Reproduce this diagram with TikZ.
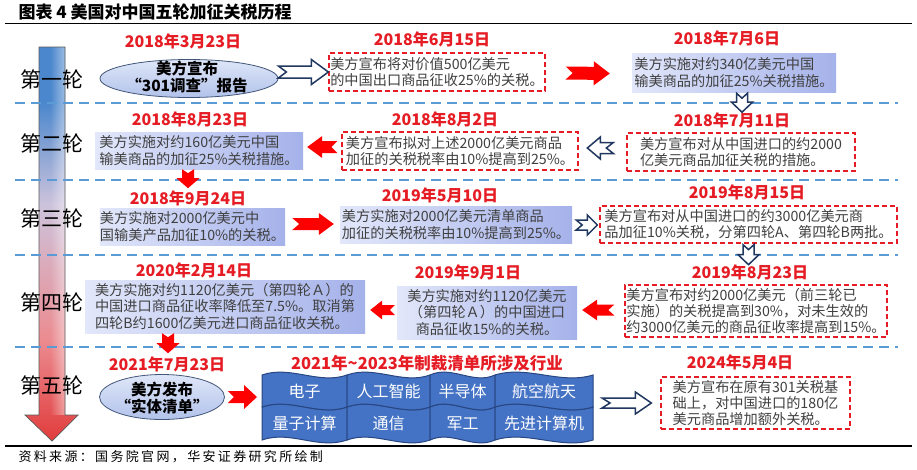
\documentclass[tikz,border=0pt]{standalone}
\usepackage{fontspec}
\setmainfont{Noto Sans CJK SC}
\newfontfamily\footfont[LetterSpace=18]{Noto Sans CJK SC}
\usetikzlibrary{calc,shapes.geometric,fadings}

\definecolor{dred}{RGB}{230,28,36}
\definecolor{arrred}{RGB}{255,0,0}
\definecolor{sepblue}{RGB}{91,155,213}
\definecolor{navy}{RGB}{32,56,96}
\definecolor{boxL}{RGB}{226,231,250}
\definecolor{boxR}{RGB}{165,178,234}
\definecolor{cellblue}{RGB}{68,114,196}
\definecolor{celledge}{RGB}{40,70,130}
\definecolor{txtgray}{RGB}{64,64,64}
\definecolor{ellT}{RGB}{222,230,248}
\definecolor{ellB}{RGB}{178,194,234}
\definecolor{rsblue}{RGB}{75,135,205}
\definecolor{rsmid}{RGB}{205,195,220}
\definecolor{rspink}{RGB}{235,140,145}
\definecolor{rsred}{RGB}{225,60,60}

\pgfdeclareverticalshading{roundshade}{100bp}{color(0bp)=(rsred); color(25bp)=(rsred); color(38bp)=(rspink); color(55bp)=(rsmid); color(68bp)=(rsblue); color(75bp)=(rsblue); color(100bp)=(rsblue)}

\newcommand\wcell[6]{%
  \pgfmathsetmacro\wa{#1+(#3-#1)/3}\pgfmathsetmacro\wb{#1+2*(#3-#1)/3}%
  \draw[cellsty] (#1,#2) .. controls (\wa,#2-10) and (\wb,#2+10) .. (#3,#2) -- (#3,#4) .. controls (\wb,#4+10) and (\wa,#4-10) .. (#1,#4) -- cycle;
  \node[celltext] (#5) at ({(#1+#3)/2},{(#2+#4)/2}) {#6};}

\tikzset{
  ah/.store in=\arrh, aH/.store in=\arrH, aL/.store in=\arrL, an/.store in=\arrn,
  ah=6, aH=12, aL=15, an=6,
  blockarrow/.style={to path={
    ($(\tikztotarget)!\arrL pt!(\tikztostart)$) coordinate (arrN)
    ($(\tikztostart)!\arrn pt!(\tikztotarget)$) coordinate (arrM)
    ($(\tikztostart)!\arrh pt!90:(\tikztotarget)$)
    -- ($(arrN)!\arrh pt!90:(\tikztotarget)$)
    -- ($(arrN)!\arrH pt!90:(\tikztotarget)$)
    -- (\tikztotarget)
    -- ($(arrN)!\arrH pt!-90:(\tikztotarget)$)
    -- ($(arrN)!\arrh pt!-90:(\tikztotarget)$)
    -- ($(\tikztostart)!\arrh pt!-90:(\tikztotarget)$)
    -- (arrM) -- cycle}},
  redarr/.style={fill=arrred, draw=none, blockarrow},
  hollowarr/.style={fill=white, draw=navy, line width=1.5pt, line join=miter, blockarrow},
  datelbl/.style={text=dred, font=\bfseries\fontsize{16}{18}\selectfont, inner sep=0pt},
  rlabel/.style={font=\fontsize{21}{24}\selectfont, text=black, inner sep=0pt},
  bodyfont/.style={text=txtgray, font=\fontsize{14.2}{16.4}\selectfont, inner sep=0pt},
  dbox/.style={bodyfont, draw=dred, line width=1.3pt, dash pattern=on 5pt off 3pt, fill=white, align=left},
  gbox/.style={bodyfont, left color=boxL, right color=boxR, draw=none, align=left},
  ellsh/.style={ellipse, draw=navy!85, line width=0.8pt, top color=ellT, bottom color=ellB, inner sep=0pt},
  elltext/.style={font=\bfseries\fontsize{15.5}{17}\selectfont, align=center, inner sep=0pt, text=black},
  sep/.style={draw=sepblue, line width=1.8pt, dash pattern=on 10pt off 6pt},
  cellsty/.style={fill=cellblue, draw=celledge, line width=1pt},
  celltext/.style={text=white, font=\fontsize{16}{18}\selectfont, inner sep=0pt},
}

\begin{document}
\begin{tikzpicture}[x=1pt, y=-1pt]
\useasboundingbox (0,0) rectangle (917,469);
\fill[white] (0,0) rectangle (917,469);

% title and rules
\node[anchor=west, font=\bfseries\fontsize{17}{20}\selectfont] (title) at (15,12) {图表 4 美国对中国五轮加征关税历程};
\draw[line width=1.5pt] (5,23.5) -- (912,23.5);
\draw[line width=1.5pt] (5,446) -- (912,446);
\node[anchor=west, font=\footfont\fontsize{13}{15}\selectfont] (src) at (15,457) {资料来源：国务院官网，华安证券研究所绘制};

% big round arrow
\path[shading=roundshade] (39,47) -- (65,47) -- (65,415) -- (78,415) -- (52,441) -- (25,415) -- (39,415) -- cycle;
\fill[white, path fading=west, fill opacity=0.45] (50,47) rectangle (65,415);
\draw[gray!70!black, line width=0.7pt] (39,47) -- (65,47) -- (65,415) -- (78,415) -- (52,441) -- (25,415) -- (39,415) -- cycle;

% separators
\foreach \yy in {103,180,255,347} \draw[sep] (15,\yy) -- (898,\yy);

% round labels
\node[rlabel] (r1) at (52,79) {第一轮};
\node[rlabel] (r2) at (52,143) {第二轮};
\node[rlabel] (r3) at (52,218) {第三轮};
\node[rlabel] (r4) at (52,302) {第四轮};
\node[rlabel] (r5) at (52,385) {第五轮};

% ---------- row 1
\node[datelbl] (d11) at (183,41) {2018年3月23日};
\node[ellsh, minimum width=178pt, minimum height=38pt] (ell1) at (189,78.5) {};
\node[elltext, font=\bfseries\fontsize{15.5}{16.5}\selectfont] (e1t) at (187,77) {美方宣布\\“301调查”报告};
\node[datelbl] (d12) at (432,39) {2018年6月15日};
\node[dbox, minimum width=216pt, minimum height=38pt] (b12) at (437,72) {美方宣布将对价值500亿美元\\的中国出口商品征收25\%的关税。};
\node[datelbl] (d13) at (727,38) {2018年7月6日};
\node[gbox, minimum width=204pt, minimum height=39pt] (b13) at (734,72.5) {美方实施对约340亿美元中国\\输美商品的加征25\%关税措施。};

% ---------- row 2
\node[datelbl] (d21) at (190,119) {2018年8月23日};
\node[gbox, minimum width=208pt, minimum height=37pt] (b21) at (199,150.5) {美方实施对约160亿美元中国\\输美商品的加征25\%关税措施。};
\node[datelbl] (d22) at (445,119) {2018年8月2日};
\node[dbox, minimum width=236pt, minimum height=38pt] (b22) at (460,151) {美方宣布拟对上述2000亿美元商品\\加征的关税税率由10\%提高到25\%。};
\node[datelbl] (d23) at (732,120) {2018年7月11日};
\node[dbox, minimum width=228pt, minimum height=38pt] (b23) at (741,152) {美方宣布对从中国进口的约2000\\亿美元商品加征关税的措施。};

% ---------- row 3
\node[datelbl] (d31) at (188,198) {2018年9月24日};
\node[gbox, minimum width=185pt, minimum height=37pt] (b31) at (192.5,226.5) {美方实施对2000亿美元中\\国输美产品加征10\%的关税。};
\node[datelbl] (d32) at (440,195) {2019年5月10日};
\node[gbox, minimum width=232pt, minimum height=37pt] (b32) at (456,224.5) {美方实施对2000亿美元清单商品\\加征的关税税率由10\%提高到25\%。};
\node[datelbl] (d33) at (747,192) {2019年8月15日};
\node[dbox, minimum width=297pt, minimum height=37pt] (b33) at (748.5,224.5) {美方宣布对从中国进口的约3000亿美元商\\品加征10\%关税，分第四轮A、第四轮B两批。};

% ---------- row 4
\node[datelbl] (d41) at (194,270) {2020年2月14日};
\node[gbox, minimum width=280pt, minimum height=53pt] (b41) at (225,306.5) {美方实施对约1120亿美元（第四轮Ａ）的\\中国进口商品征收率降低至7.5\%。取消第\\四轮B约1600亿美元进口商品征收关税。};
\node[datelbl] (d42) at (468,272) {2019年9月1日};
\node[gbox, align=center, minimum width=180pt, minimum height=53pt] (b42) at (487,312.5) {美方实施对约1120亿美元\\（第四轮Ａ）的中国进口\\商品征收15\%的关税。};
\node[datelbl] (d43) at (750,272) {2019年8月23日};
\node[dbox, minimum width=262pt, minimum height=52pt] (b43) at (756,311) {美方宣布对约2000亿美元（前三轮已\\实施）的关税提高到30\%，对未生效的\\约3000亿美元的商品征收率提高到15\%。};

% ---------- row 5
\node[datelbl] (d51) at (167,364) {2021年7月23日};
\node[ellsh, minimum width=125pt, minimum height=45pt] (ell5) at (162,397) {};
\node[elltext] (e5t) at (162,398) {美方发布\\“实体清单”};
\node[datelbl, font=\bfseries\fontsize{16.5}{18}\selectfont] (d52) at (427,363) {2021年\textasciitilde2023年制裁清单所涉及行业};
\wcell{262}{407}{347}{440}{c5}{量子计算}
\wcell{347}{407}{430}{440}{c6}{通信}
\wcell{430}{407}{495}{440}{c7}{军工}
\wcell{495}{407}{593}{440}{c8}{先进计算机}
\wcell{262}{375}{347}{407}{c1}{电子}
\wcell{347}{375}{430}{407}{c2}{人工智能}
\wcell{430}{375}{495}{407}{c3}{半导体}
\wcell{495}{375}{593}{407}{c4}{航空航天}
\coordinate (cells) at (593,403);
\coordinate (cellw) at (262,397);
\node[datelbl] (d53) at (740,362) {2024年5月4日};
\node[dbox, minimum width=189pt, minimum height=52pt] (b53) at (755.5,403) {美方宣布在原有301关税基\\础上，对中国进口的180亿\\美元商品增加额外关税。};

% ---------- arrows
\coordinate (a1s) at (ell1.east |- b12.west);
\draw[hollowarr, ah=6, aH=12.5, aL=17, an=8] (a1s) to (b12.west);
\coordinate (a2s) at ($(b12.east)+(20,1)$);
\coordinate (a2e) at ($(b13.west)+(-22,1)$);
\draw[redarr, ah=6.5, aH=12, aL=16, an=7] (a2s) to (a2e);
\coordinate (a3s) at ($(b13.south)+(8,1)$);
\coordinate (a3e) at ($(b13.south)+(8,20)$);
\draw[hollowarr, ah=5.5, aH=10.5, aL=10, an=5] (a3s) to (a3e);
\coordinate (a4s) at ($(b23.west)+(-13,-4)$);
\coordinate (a4e) at ($(b23.west)+(-39,-4)$);
\draw[hollowarr, ah=5.5, aH=11, aL=13, an=7] (a4s) to (a4e);
\coordinate (a5s) at ($(b22.west)+(-4,-4)$);
\coordinate (a5e) at ($(b21.east)+(4,-3.5)$);
\draw[redarr, ah=6, aH=11, aL=15, an=6] (a5s) to (a5e);
\coordinate (a6s) at ($(b21.south)+(-11,0)$);
\coordinate (a6e) at ($(b21.south)+(-11,19)$);
\draw[redarr, ah=6, aH=11.5, aL=10, an=4] (a6s) to (a6e);
\coordinate (a7s) at ($(b31.east)+(7,-2.5)$);
\coordinate (a7e) at ($(b32.west)+(-6,-0.5)$);
\draw[redarr, ah=6, aH=11, aL=15, an=7] (a7s) to (a7e);
\coordinate (a8s) at ($(b32.east)+(4,0.5)$);
\coordinate (a8e) at ($(b33.west)+(-2,0.5)$);
\draw[hollowarr, ah=5, aH=10, aL=10, an=6] (a8s) to (a8e);
\coordinate (a9s) at ($(b33.south)+(0,1)$);
\coordinate (a9e) at ($(b33.south)+(0,21)$);
\draw[hollowarr, ah=5.5, aH=10.5, aL=10, an=5] (a9s) to (a9e);
\coordinate (a10s) at ($(b43.west)+(-10,-1)$);
\coordinate (a10e) at ($(b42.east)+(5,-2.5)$);
\draw[redarr, ah=5.5, aH=10.5, aL=15, an=6] (a10s) to (a10e);
\coordinate (a11s) at ($(b42.west)+(-2,-2.5)$);
\coordinate (a11e) at ($(b41.east)+(5,3.5)$);
\draw[redarr, ah=5, aH=9.5, aL=12, an=5] (a11s) to (a11e);
\coordinate (a12s) at ($(b41.south)+(-57,0)$);
\coordinate (a12e) at ($(b41.south)+(-57,20)$);
\draw[redarr, ah=6, aH=11.5, aL=10, an=4] (a12s) to (a12e);
\coordinate (a13s) at ($(ell5.east)+(3,0)$);
\coordinate (a13e) at ($(cellw)+(-5,0)$);
\draw[redarr, ah=6, aH=12, aL=13, an=6] (a13s) to (a13e);
\coordinate (a14s) at ($(cells)+(9,0)$);
\coordinate (a14e) at ($(b53.west)+(-9,0)$);
\draw[hollowarr, ah=5, aH=11, aL=16, an=8] (a14s) to (a14e);
\end{tikzpicture}
\end{document}
